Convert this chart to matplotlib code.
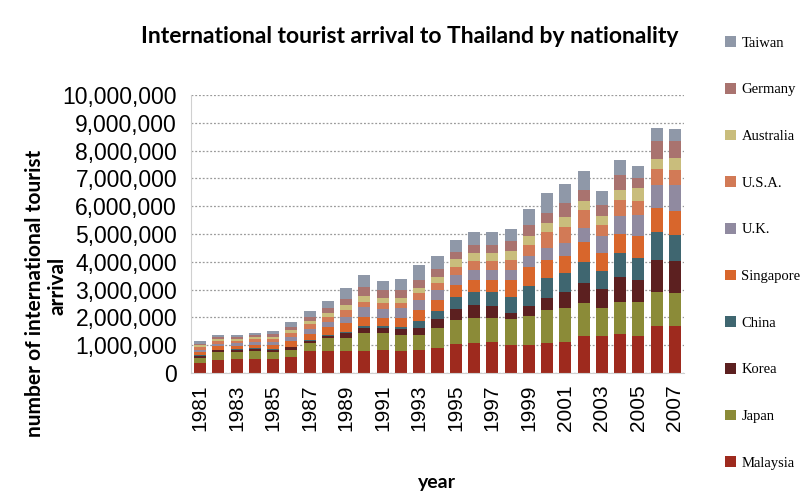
import numpy as np
import matplotlib.pyplot as plt
from matplotlib.patches import Patch

years = list(range(1981, 2008))

# arrivals in millions, per nationality (stacked bottom to top)
malaysia = [0.36, 0.48, 0.50, 0.50, 0.50, 0.58, 0.78, 0.78, 0.78, 0.78, 0.84, 0.78, 0.84, 0.90,
            1.05, 1.08, 1.10, 1.02, 1.02, 1.08, 1.10, 1.32, 1.32, 1.40, 1.34, 1.68, 1.68]
japan = [0.18, 0.26, 0.26, 0.30, 0.25, 0.26, 0.30, 0.48, 0.48, 0.66, 0.60, 0.60, 0.54, 0.72,
         0.86, 0.90, 0.88, 0.92, 1.04, 1.18, 1.23, 1.20, 1.02, 1.15, 1.21, 1.22, 1.20]
korea = [0.08, 0.07, 0.07, 0.07, 0.08, 0.08, 0.08, 0.08, 0.18, 0.18, 0.18, 0.20, 0.24, 0.32,
         0.38, 0.48, 0.44, 0.22, 0.34, 0.44, 0.60, 0.72, 0.68, 0.92, 0.80, 1.18, 1.14]
china = [0.02, 0.02, 0.02, 0.02, 0.03, 0.03, 0.03, 0.04, 0.05, 0.06, 0.06, 0.06, 0.24, 0.28,
         0.44, 0.44, 0.48, 0.58, 0.74, 0.72, 0.66, 0.74, 0.64, 0.84, 0.78, 0.98, 0.96]
singapore = [0.12, 0.14, 0.13, 0.13, 0.15, 0.20, 0.22, 0.26, 0.30, 0.32, 0.30, 0.34, 0.42, 0.42,
             0.44, 0.46, 0.46, 0.62, 0.66, 0.64, 0.62, 0.72, 0.66, 0.70, 0.80, 0.88, 0.84]
uk = [0.08, 0.09, 0.09, 0.10, 0.12, 0.15, 0.18, 0.20, 0.24, 0.36, 0.32, 0.36, 0.36, 0.36,
      0.36, 0.36, 0.36, 0.36, 0.40, 0.44, 0.48, 0.52, 0.60, 0.62, 0.76, 0.84, 0.96]
usa = [0.08, 0.09, 0.09, 0.09, 0.10, 0.13, 0.16, 0.18, 0.22, 0.20, 0.22, 0.18, 0.22, 0.24,
       0.30, 0.30, 0.30, 0.34, 0.42, 0.56, 0.55, 0.64, 0.42, 0.60, 0.48, 0.56, 0.54]
australia = [0.07, 0.08, 0.07, 0.07, 0.08, 0.10, 0.12, 0.14, 0.18, 0.20, 0.18, 0.18, 0.20, 0.22,
             0.26, 0.30, 0.30, 0.32, 0.32, 0.34, 0.38, 0.32, 0.30, 0.36, 0.48, 0.36, 0.42]
germany = [0.07, 0.08, 0.08, 0.08, 0.09, 0.12, 0.14, 0.17, 0.23, 0.32, 0.30, 0.30, 0.30, 0.28,
           0.28, 0.30, 0.30, 0.36, 0.40, 0.36, 0.48, 0.42, 0.42, 0.54, 0.36, 0.64, 0.60]
taiwan = [0.08, 0.07, 0.07, 0.08, 0.10, 0.17, 0.21, 0.27, 0.40, 0.44, 0.32, 0.38, 0.54, 0.48,
          0.42, 0.44, 0.44, 0.44, 0.56, 0.72, 0.70, 0.66, 0.50, 0.52, 0.42, 0.48, 0.42]

names = ["Malaysia", "Japan", "Korea", "China", "Singapore",
         "U.K.", "U.S.A.", "Australia", "Germany", "Taiwan"]
series = [malaysia, japan, korea, china, singapore, uk, usa, australia, germany, taiwan]
colors = ["#9e2a1e", "#8b8b38", "#5c2020", "#3f6670", "#d8662c",
          "#908aa0", "#d27a56", "#c9bd7c", "#a9736f", "#8f98a8"]

fig = plt.figure(figsize=(8.05, 4.97), dpi=100)
ax = fig.add_axes([191 / 805, 1 - 373 / 497, (684 - 191) / 805, (373 - 95) / 497])

x = np.arange(len(years))
bottom = np.zeros(len(years))
for name, vals, c in zip(names, series, colors):
    v = np.array(vals) * 1e6
    ax.bar(x, v, bottom=bottom, width=0.66, color=c, label=name, zorder=2)
    bottom += v

ax.set_xlim(-0.5, len(years) - 0.5)
ax.set_ylim(0, 10e6)
ticks = np.arange(0, 10e6 + 1, 1e6)
ax.set_yticks(ticks)
ax.set_yticklabels([format(int(t), ",") for t in ticks],
                   fontsize=16.5, family="Liberation Sans")
ax.set_xticks(x[::2])
ax.set_xticklabels([str(y) for y in years[::2]], rotation=90,
                   fontsize=15, family="Liberation Sans")
ax.tick_params(axis="y", length=0, pad=10)
ax.tick_params(axis="x", length=0, pad=8)
ax.grid(axis="y", linestyle=(0, (1.5, 1.5)), color="#9a9a9a", linewidth=0.9, zorder=0)
for s in ["top", "right"]:
    ax.spines[s].set_visible(False)
ax.spines["left"].set_color("#d0d0d0")
ax.spines["bottom"].set_color("#d0d0d0")

fig.text(0.509, 0.926, "International tourist arrival to Thailand by nationality",
         ha="center", va="center", fontsize=16.5, fontweight="bold", family="Lato")
fig.text(0.044, 0.41, "number of international tourist", rotation=90,
         ha="center", va="center", fontsize=15, fontweight="bold", family="Lato")
fig.text(0.072, 0.425, "arrival", rotation=90,
         ha="center", va="center", fontsize=15, fontweight="bold", family="Lato")
fig.text(0.543, 0.03, "year", ha="center", va="center",
         fontsize=14, fontweight="bold", family="Lato")

handles = [Patch(facecolor=c, label=n) for n, c in zip(names, colors)][::-1]
fig.legend(handles=handles, loc="upper left", bbox_to_anchor=(0.893, 0.939),
           frameon=False, prop={"family": "Liberation Serif", "size": 10.5},
           handlelength=0.75, handleheight=0.75, handletextpad=0.4,
           labelspacing=2.28, borderaxespad=0)

fig.savefig("out.png", dpi=100)
